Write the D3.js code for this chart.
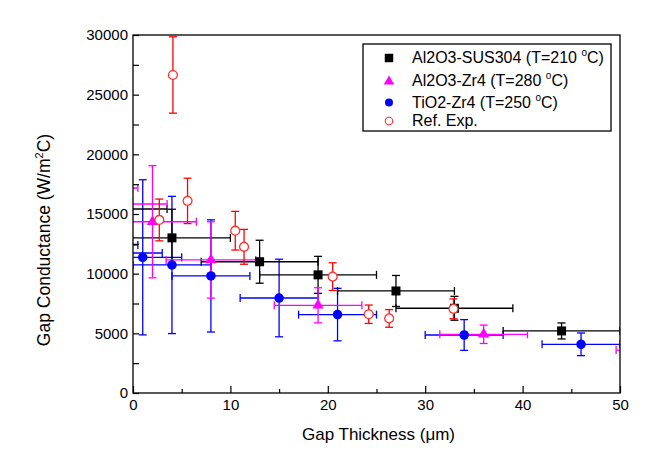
<!DOCTYPE html>
<html><head><meta charset="utf-8">
<script src="https://cdn.jsdelivr.net/npm/d3@7"></script>
<style>body{margin:0;background:#fff}svg{display:block}text{font-family:Arial,"Liberation Sans",sans-serif}</style>
</head><body>
<svg id="chart" width="655" height="460"></svg>
<script>
// ---- data ----
const legendLabels = ["Al2O3-SUS304 (T=210 ", "Al2O3-Zr4 (T=280 ", "TiO2-Zr4 (T=250 ", "Ref. Exp."];
const xTicks = [0, 10, 20, 30, 40, 50];
const yTicks = [0, 5000, 10000, 15000, 20000, 25000, 30000];

const susX = [-2.5, 4, 13, 19, 27, 33, 44];
const susY = [15420, 13000, 11000, 9900, 8550, 7100, 5200];
const susXErr = [6, 6, 6, 6, 6, 6, 6];
const susYErr = [2000, 2400, 1800, 1550, 1300, 1000, 670];

const zrX = [-4, -1, 2, 8, 19, 36, 54.1];
const zrY = [17180, 15840, 14350, 11150, 7350, 4920, 3600];
const zrXErr = [4.5, 4.5, 4.5, 4.6, 4.5, 4.5, 4.5];
const zrYErr = [2000, 2000, 4700, 3200, 1470, 770, 700];

const tiX = [-3.5, -1, 1, 4, 8, 15, 21, 34, 46];
const tiY = [12400, 11730, 11370, 10730, 9810, 7960, 6570, 4860, 4080];
const tiXErr = [4, 4, 4, 4, 4, 4, 4, 4, 4];
const tiYErr = [3000, 3000, 6500, 5750, 4700, 3250, 2200, 1290, 950];

const refX = [4.1, 2.7, 5.6, 10.5, 11.4, 20.5, 24.2, 26.3, 32.9];
const refY = [26650, 14500, 16100, 13600, 12250, 9750, 6600, 6250, 7050];
const refYErr = [3200, 1750, 1900, 1620, 1460, 1160, 770, 740, 830];

// ---- layout ----
const L = 133, R = 620, T = 35, B = 393;
const x = d3.scaleLinear().domain([0, 50]).range([L, R]);
const y = d3.scaleLinear().domain([0, 30000]).range([B, T]);
const svg = d3.select("#chart");

svg.append("defs").append("clipPath").attr("id", "clip")
  .append("rect").attr("x", L).attr("y", T).attr("width", R - L).attr("height", B - T);

const cap = 4;
function errBars(g, xs, ys, xe, ye, color) {
  xs.forEach((xv, i) => {
    const cx = x(xv), cy = y(ys[i]);
    if (xe) {
      const x0 = x(xv - xe[i]), x1 = x(xv + xe[i]);
      g.append("line").attr("x1", x0).attr("x2", x1).attr("y1", cy).attr("y2", cy);
      g.append("line").attr("x1", x0).attr("x2", x0).attr("y1", cy - cap).attr("y2", cy + cap);
      g.append("line").attr("x1", x1).attr("x2", x1).attr("y1", cy - cap).attr("y2", cy + cap);
    }
    if (ye) {
      const y0 = y(ys[i] - ye[i]), y1 = y(ys[i] + ye[i]);
      g.append("line").attr("x1", cx).attr("x2", cx).attr("y1", y0).attr("y2", y1);
      g.append("line").attr("x1", cx - cap).attr("x2", cx + cap).attr("y1", y0).attr("y2", y0);
      g.append("line").attr("x1", cx - cap).attr("x2", cx + cap).attr("y1", y1).attr("y2", y1);
    }
  });
  g.selectAll("line").attr("stroke", color).attr("stroke-width", 1.3);
}

const plot = svg.append("g").attr("clip-path", "url(#clip)");
errBars(plot.append("g"), tiX, tiY, tiXErr, tiYErr, "#0000ff");
errBars(plot.append("g"), susX, susY, susXErr, susYErr, "#000000");
errBars(plot.append("g"), zrX, zrY, zrXErr, zrYErr, "#ff00ff");
errBars(plot.append("g"), refX, refY, null, refYErr, "#ff0000");

const sq = d3.symbol().type(d3.symbolSquare).size(81);
const tri = d3.symbol().type(d3.symbolTriangle).size(56);
const circ = d3.symbol().type(d3.symbolCircle).size(72);
const ocirc = d3.symbol().type(d3.symbolCircle).size(62);

plot.append("g").selectAll("path").data(susX).join("path")
  .attr("d", sq).attr("transform", (d, i) => `translate(${x(d)},${y(susY[i])})`).attr("fill", "#000");
plot.append("g").selectAll("path").data(zrX).join("path")
  .attr("d", tri).attr("transform", (d, i) => `translate(${x(d)},${y(zrY[i])})`).attr("fill", "#ff00ff");
plot.append("g").selectAll("path").data(tiX).join("path")
  .attr("d", circ).attr("transform", (d, i) => `translate(${x(d)},${y(tiY[i])})`).attr("fill", "#0000ff");
plot.append("g").selectAll("path").data(refX).join("path")
  .attr("d", ocirc).attr("transform", (d, i) => `translate(${x(d)},${y(refY[i])})`)
  .attr("fill", "#fff").attr("stroke", "#ff3030").attr("stroke-width", 1.3);

// ---- axes ----
const fs = "15px";
svg.append("g").attr("transform", `translate(0,${B})`)
  .call(d3.axisBottom(x).tickValues(xTicks).tickSize(-7).tickPadding(6).tickFormat(d3.format("d")));
svg.append("g").attr("transform", `translate(0,${B})`)
  .call(d3.axisBottom(x).tickValues([5, 15, 25, 35, 45]).tickSize(-4).tickFormat(""));
svg.append("g").attr("transform", `translate(${L},0)`)
  .call(d3.axisLeft(y).tickValues(yTicks).tickSize(-6).tickPadding(5).tickFormat(d3.format("d")));
svg.append("g").attr("transform", `translate(${L},0)`)
  .call(d3.axisLeft(y).tickValues([2500, 7500, 12500, 17500, 22500, 27500]).tickSize(-6).tickFormat(""));
svg.selectAll(".domain").remove();
svg.selectAll(".tick line").attr("stroke", "#000").attr("stroke-width", 1.2);
svg.selectAll(".tick text").attr("font-size", fs).attr("fill", "#000").attr("font-family", "Arial, 'Liberation Sans', sans-serif");

svg.append("rect").attr("x", L).attr("y", T).attr("width", R - L).attr("height", B - T)
  .attr("fill", "none").attr("stroke", "#000").attr("stroke-width", 1.3);

// titles
svg.append("text").attr("x", (L + R) / 2 + 2).attr("y", 440).attr("text-anchor", "middle")
  .attr("font-size", "17px").text("Gap Thickness (\u03bcm)");
const yt = svg.append("text").attr("transform", "translate(50,240) rotate(-90)")
  .attr("text-anchor", "middle").attr("font-size", "17.5px");
yt.append("tspan").text("Gap Conductance (W/m");
yt.append("tspan").attr("font-size", "11px").attr("dy", -7).text("2");
yt.append("tspan").attr("dy", 7).text("C)");

// ---- legend ----
const lg = svg.append("g");
lg.append("rect").attr("x", 363).attr("y", 44).attr("width", 248).attr("height", 87)
  .attr("fill", "#fff").attr("stroke", "#000").attr("stroke-width", 1.3);
const rowSym = [58, 81.5, 102.5, 121];
const rowBase = [63, 86, 107.5, 126];
const symX = 389, txtX = 412;
lg.append("path").attr("d", d3.symbol().type(d3.symbolSquare).size(72)).attr("transform", `translate(${symX},${rowSym[0]})`).attr("fill", "#000");
lg.append("path").attr("d", d3.symbol().type(d3.symbolTriangle).size(48)).attr("transform", `translate(${symX},${rowSym[1]})`).attr("fill", "#ff00ff");
lg.append("path").attr("d", d3.symbol().type(d3.symbolCircle).size(50)).attr("transform", `translate(${symX},${rowSym[2]})`).attr("fill", "#0000ff");
lg.append("path").attr("d", d3.symbol().type(d3.symbolCircle).size(44)).attr("transform", `translate(${symX},${rowSym[3]})`).attr("fill", "#fff").attr("stroke", "#ff3030").attr("stroke-width", 1.1);
legendLabels.forEach((lab, i) => {
  const t = lg.append("text").attr("x", txtX).attr("y", rowBase[i]).attr("font-size", "16px");
  t.append("tspan").text(lab);
  if (i < 3) {
    t.append("tspan").attr("font-size", "10px").attr("dy", -7).text("o");
    t.append("tspan").attr("dy", 7).text("C)");
  }
});
</script>
</body></html>
